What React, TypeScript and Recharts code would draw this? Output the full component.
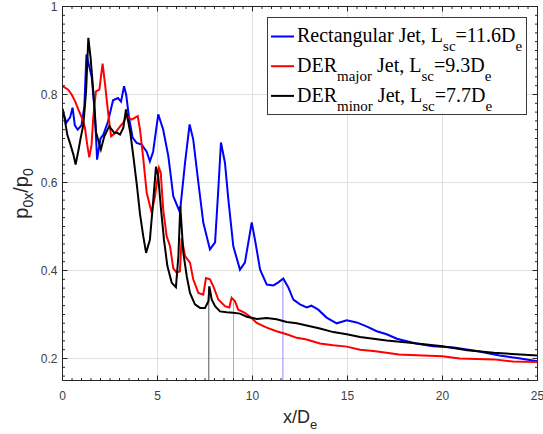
import React from 'react';
import {
  LineChart,
  Line,
  XAxis,
  YAxis,
  CartesianGrid,
  ReferenceLine,
  Legend,
} from 'recharts';

// rectangular jet (blue)
const rectX = [0, 0.2, 0.4, 0.53, 0.65, 0.8, 1.0, 1.15, 1.26, 1.54, 1.71, 1.82, 2.0, 2.15, 2.4, 2.66, 2.92, 3.08, 3.24, 3.35, 3.5, 3.69, 3.9, 4.17, 4.43, 4.6, 4.77, 5.04, 5.3, 5.57, 5.83, 6.18, 6.45, 6.69, 6.88, 7.15, 7.41, 7.76, 8.03, 8.2, 8.34, 8.55, 8.73, 8.99, 9.34, 9.6, 9.96, 10.13, 10.4, 10.75, 11.1, 11.36, 11.62, 11.88, 12.15, 12.5, 12.85, 13.1, 13.46, 13.9, 14.43, 14.96, 15.48, 16.0, 16.54, 17.06, 17.6, 18.6, 19.5, 20.6, 21.8, 23.0, 24.1, 25];
const rectY = [0.766, 0.736, 0.748, 0.77, 0.73, 0.72, 0.73, 0.773, 0.891, 0.839, 0.755, 0.652, 0.7, 0.709, 0.739, 0.787, 0.792, 0.784, 0.819, 0.8, 0.748, 0.702, 0.69, 0.686, 0.67, 0.648, 0.67, 0.755, 0.72, 0.66, 0.569, 0.532, 0.645, 0.732, 0.698, 0.6, 0.509, 0.448, 0.464, 0.584, 0.691, 0.645, 0.561, 0.455, 0.402, 0.418, 0.509, 0.47, 0.402, 0.368, 0.366, 0.373, 0.382, 0.362, 0.334, 0.323, 0.316, 0.32, 0.311, 0.293, 0.28, 0.287, 0.282, 0.273, 0.262, 0.255, 0.245, 0.234, 0.228, 0.225, 0.217, 0.207, 0.2, 0.194];

// DER major (red)
const majorX = [0, 0.3, 0.48, 0.66, 0.83, 1.01, 1.18, 1.3, 1.41, 1.53, 1.62, 1.76, 1.94, 2.11, 2.24, 2.41, 2.56, 2.78, 3.04, 3.2, 3.38, 3.64, 3.96, 4.08, 4.25, 4.43, 4.69, 4.87, 5.08, 5.17, 5.3, 5.48, 5.66, 5.83, 6.01, 6.18, 6.27, 6.45, 6.71, 6.88, 7.15, 7.41, 7.55, 7.76, 7.94, 8.2, 8.55, 8.78, 8.9, 9.08, 9.25, 9.6, 9.87, 10.22, 10.75, 11.27, 11.8, 12.33, 12.85, 13.55, 14.25, 14.96, 15.66, 16.36, 17.06, 17.7, 18.3, 20.0, 20.9, 22.7, 23.7, 25];
const majorY = [0.819, 0.811, 0.8, 0.785, 0.766, 0.748, 0.725, 0.686, 0.657, 0.686, 0.748, 0.807, 0.811, 0.87, 0.823, 0.755, 0.705, 0.713, 0.728, 0.736, 0.751, 0.743, 0.751, 0.72, 0.655, 0.577, 0.532, 0.569, 0.633, 0.623, 0.539, 0.478, 0.455, 0.405, 0.395, 0.398, 0.474, 0.433, 0.418, 0.38, 0.349, 0.345, 0.383, 0.38, 0.364, 0.334, 0.319, 0.316, 0.338, 0.33, 0.311, 0.304, 0.295, 0.281, 0.27, 0.262, 0.255, 0.247, 0.243, 0.234, 0.23, 0.227, 0.22, 0.217, 0.213, 0.209, 0.208, 0.205, 0.2, 0.198, 0.193, 0.192];

// DER minor (black)
const minorX = [0, 0.13, 0.25, 0.39, 0.57, 0.69, 0.83, 0.96, 1.1, 1.24, 1.36, 1.48, 1.62, 1.76, 2.02, 2.2, 2.46, 2.72, 2.88, 3.03, 3.2, 3.34, 3.57, 3.75, 3.92, 4.08, 4.25, 4.4, 4.6, 4.78, 4.92, 5.04, 5.17, 5.34, 5.52, 5.75, 5.97, 6.1, 6.2, 6.36, 6.54, 6.71, 6.97, 7.24, 7.5, 7.68, 7.73, 7.85, 8.03, 8.29, 8.64, 8.99, 9.34, 9.7, 10.22, 10.75, 11.27, 11.8, 12.33, 12.85, 13.55, 14.25, 14.96, 15.66, 16.36, 17.06, 18.3, 20.0, 21.3, 22.7, 24.1, 25];
const minorY = [0.768, 0.74, 0.709, 0.69, 0.664, 0.641, 0.671, 0.702, 0.732, 0.807, 0.929, 0.883, 0.807, 0.715, 0.675, 0.705, 0.728, 0.713, 0.713, 0.709, 0.724, 0.766, 0.713, 0.652, 0.592, 0.528, 0.478, 0.44, 0.47, 0.561, 0.636, 0.614, 0.546, 0.47, 0.41, 0.372, 0.362, 0.433, 0.546, 0.44, 0.387, 0.349, 0.323, 0.315, 0.315, 0.33, 0.364, 0.334, 0.319, 0.307, 0.305, 0.304, 0.302, 0.295, 0.29, 0.292, 0.289, 0.283, 0.28, 0.275, 0.268, 0.26, 0.255, 0.249, 0.245, 0.241, 0.236, 0.228, 0.219, 0.213, 0.209, 0.207];

// shock-cell length markers
const lscX = [11.6, 9.0, 7.7];
const lscTop = [0.382, 0.332, 0.364];
const lscColors = ['#8c8cff', '#ff8c8c', '#555555'];

const xMajorTicks = [0, 5, 10, 15, 20, 25];
const yMajorTicks = [0.2, 0.4, 0.6, 0.8, 1];

const toPoints = (xs: number[], ys: number[]) => xs.map((x, i) => ({ x, y: ys[i] }));

const rectData = toPoints(rectX, rectY);
const majorData = toPoints(majorX, majorY);
const minorData = toPoints(minorX, minorY);

// minor ticks every 0.5 in x and 0.02 in y
const xTicks: number[] = [];
for (let i = 0; i <= 50; i++) xTicks.push(i / 2);
const yTicks: number[] = [];
for (let i = 8; i <= 50; i++) yTicks.push(Math.round(i * 2) / 100);

const PLOT_TOP = 6.5;
const PLOT_BOTTOM = 380.5;
const PLOT_LEFT = 62.5;
const PLOT_RIGHT = 537.5;
const AXIS_COLOR = '#262626';
const GRID_COLOR = '#dfdfdf';
const LABEL_FONT = '"Liberation Sans", Arial, sans-serif';

const isMajorX = (v: number) => xMajorTicks.some((t) => Math.abs(t - v) < 1e-6);
const isMajorY = (v: number) => yMajorTicks.some((t) => Math.abs(t - v) < 1e-6);

// grid only at the labelled ticks (the axes carry minor ticks too)
const gridX = xMajorTicks
  .slice(1, -1)
  .map((v) => PLOT_LEFT + (v / 25) * (PLOT_RIGHT - PLOT_LEFT));
const gridY = yMajorTicks
  .slice(0, -1)
  .map((v) => PLOT_BOTTOM - ((v - 0.15) / 0.85) * (PLOT_BOTTOM - PLOT_TOP));

const BottomTick = (props: any) => {
  const { x, y, payload } = props;
  const major = isMajorX(payload.value);
  return (
    <g>
      <line x1={x} x2={x} y1={y} y2={y - (major ? 5 : 2.5)} stroke={AXIS_COLOR} />
      {major && (
        <text x={x} y={y + 19} textAnchor="middle" fontSize={12} fill="#404040" fontFamily={LABEL_FONT}>
          {payload.value}
        </text>
      )}
    </g>
  );
};

const TopTick = (props: any) => {
  const { x, y, payload } = props;
  const major = isMajorX(payload.value);
  return <line x1={x} x2={x} y1={y} y2={y + (major ? 5 : 2.5)} stroke={AXIS_COLOR} />;
};

const LeftTick = (props: any) => {
  const { x, y, payload } = props;
  const major = isMajorY(payload.value);
  return (
    <g>
      <line x1={x} x2={x + (major ? 5 : 2.5)} y1={y} y2={y} stroke={AXIS_COLOR} />
      {major && (
        <text x={x - 5} y={y + 4.3} textAnchor="end" fontSize={12} fill="#404040" fontFamily={LABEL_FONT}>
          {String(payload.value)}
        </text>
      )}
    </g>
  );
};

const RightTick = (props: any) => {
  const { x, y, payload } = props;
  const major = isMajorY(payload.value);
  return <line x1={x} x2={x - (major ? 5 : 2.5)} y1={y} y2={y} stroke={AXIS_COLOR} />;
};

const XLabel = () => (
  <text x={300} y={423} textAnchor="middle" fontSize={18} fill={AXIS_COLOR} fontFamily={LABEL_FONT}>
    x/D
    <tspan fontSize={13} dy={6}>e</tspan>
  </text>
);

const YLabel = () => (
  <text
    x={28}
    y={(PLOT_TOP + PLOT_BOTTOM) / 2}
    transform={`rotate(-90 28 ${(PLOT_TOP + PLOT_BOTTOM) / 2})`}
    textAnchor="middle"
    fontSize={20}
    fill={AXIS_COLOR}
    fontFamily={LABEL_FONT}
  >
    p
    <tspan fontSize={14} dy={5}>0x</tspan>
    <tspan dy={-5}>/p</tspan>
    <tspan fontSize={14} dy={5}>0</tspan>
  </text>
);

const legendRows = [
  { color: '#0000ff', name: 'Rectangular', sub: '', value: '11.6' },
  { color: '#ff0000', name: 'DER', sub: 'major', value: '9.3' },
  { color: '#000000', name: 'DER', sub: 'minor', value: '7.7' },
];

const LegendBox = () => (
  <svg width={260} height={98} style={{ display: 'block' }}>
    <rect x={0.5} y={0.5} width={259} height={97} fill="#fff" stroke="#3a3a3a" />
    {legendRows.map((row, i) => {
      const base = 25.3 + i * 29.7;
      return (
        <g key={row.name + i}>
          <line x1={4} x2={27} y1={base - 5.8} y2={base - 5.8} stroke={row.color} strokeWidth={2} />
          <text x={30} y={base} fontSize={20} fill="#000" fontFamily='"Liberation Serif", "Times New Roman", serif'>
            {row.name}
            {row.sub && <tspan fontSize={15} dy={9}>{row.sub}</tspan>}
            <tspan dy={row.sub ? -9 : 0}> Jet, L</tspan>
            <tspan fontSize={15} dy={9}>sc</tspan>
            <tspan dy={-9}>{'=' + row.value + 'D'}</tspan>
            <tspan fontSize={15} dy={9}>e</tspan>
          </text>
        </g>
      );
    })}
  </svg>
);

export default function App() {
  return (
    <div style={{ position: 'absolute', left: 0, top: 0, width: 543, height: 434, background: '#fff' }}>
      <LineChart width={543} height={434} margin={{ top: 0, right: 0, bottom: 0, left: 0 }}>
        <CartesianGrid stroke={GRID_COLOR} strokeWidth={1} verticalPoints={gridX} horizontalPoints={gridY} />
        <XAxis
          xAxisId={0}
          dataKey="x"
          type="number"
          domain={[0, 25]}
          ticks={xTicks}
          interval={0}
          height={434 - PLOT_BOTTOM}
          tickSize={0}
          tickMargin={0}
          tickLine={false}
          tick={<BottomTick />}
          axisLine={{ stroke: AXIS_COLOR }}
          allowDataOverflow
          label={<XLabel />}
        />
        <XAxis
          xAxisId="top"
          orientation="top"
          dataKey="x"
          type="number"
          domain={[0, 25]}
          ticks={xTicks}
          interval={0}
          height={PLOT_TOP}
          tickSize={0}
          tickMargin={0}
          tickLine={false}
          tick={<TopTick />}
          axisLine={{ stroke: AXIS_COLOR }}
          allowDataOverflow
        />
        <YAxis
          yAxisId={0}
          type="number"
          domain={[0.15, 1]}
          ticks={yTicks}
          interval={0}
          width={PLOT_LEFT}
          tickSize={0}
          tickMargin={0}
          tickLine={false}
          tick={<LeftTick />}
          axisLine={{ stroke: AXIS_COLOR }}
          allowDataOverflow
          label={<YLabel />}
        />
        <YAxis
          yAxisId="right"
          orientation="right"
          type="number"
          domain={[0.15, 1]}
          ticks={yTicks}
          interval={0}
          width={543 - PLOT_RIGHT}
          tickSize={0}
          tickMargin={0}
          tickLine={false}
          tick={<RightTick />}
          axisLine={{ stroke: AXIS_COLOR }}
          allowDataOverflow
        />
        {lscX.map((x, i) => (
          <ReferenceLine
            key={'lsc' + i}
            segment={[
              { x, y: 0.15 },
              { x, y: lscTop[i] },
            ]}
            stroke={lscColors[i]}
            strokeWidth={1}
          />
        ))}
        <Line data={rectData} dataKey="y" type="linear" stroke="#0000ff" strokeWidth={2} dot={false} isAnimationActive={false} />
        <Line data={majorData} dataKey="y" type="linear" stroke="#ff0000" strokeWidth={2} dot={false} isAnimationActive={false} />
        <Line data={minorData} dataKey="y" type="linear" stroke="#000000" strokeWidth={2} dot={false} isAnimationActive={false} />
        <Legend
          layout="horizontal"
          verticalAlign="middle"
          align="center"
          wrapperStyle={{ left: 267, top: 17, width: 260, height: 98 }}
          content={() => <LegendBox />}
        />
      </LineChart>
    </div>
  );
}
